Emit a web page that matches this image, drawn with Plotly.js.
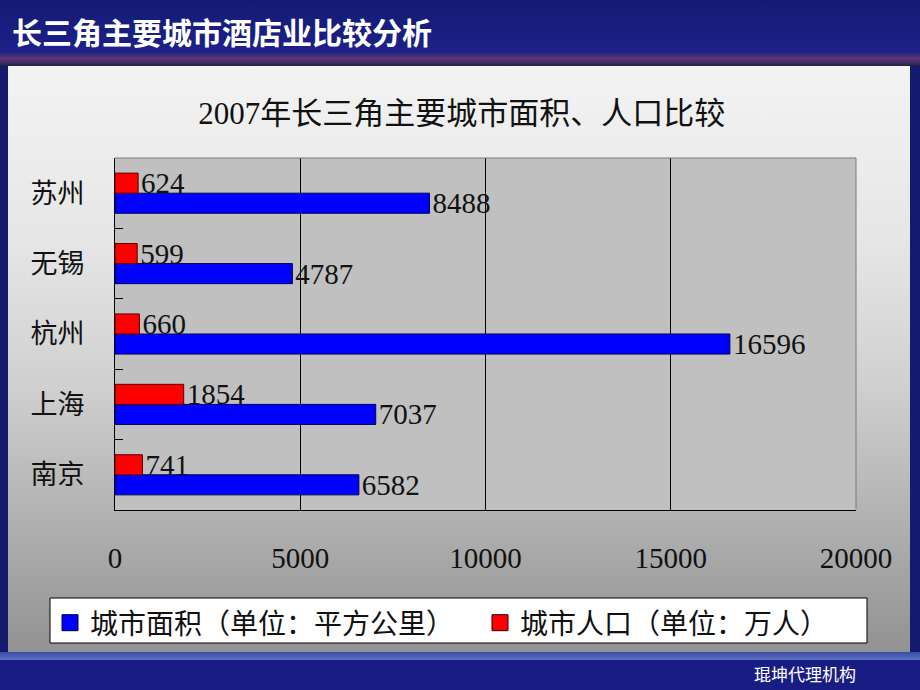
<!DOCTYPE html>
<html>
<head>
<meta charset="utf-8">
<script src="https://cdn.plot.ly/plotly-3.0.1.min.js"></script>
<style>
  html, body { margin:0; padding:0; width:920px; height:690px; overflow:hidden; background:#161c7c; }
  .bg { position:absolute; }
  #chart { position:absolute; left:0; top:0; width:920px; height:690px; }
</style>
</head>
<body>
<div class="bg" style="left:0;top:0;width:920px;height:52px;background:linear-gradient(to bottom,#141a74,#1c2288);"></div>
<div class="bg" style="left:0;top:52px;width:920px;height:14px;background:linear-gradient(to bottom,#1c2288 0%,#5e3474 45%,#3c2c66 80%,#202040 100%);"></div>
<div class="bg" style="left:0;top:66px;width:920px;height:590px;background:#141a6e;"></div>
<div class="bg" style="left:8px;top:66px;width:902px;height:586px;background:linear-gradient(to bottom,#f3f3f3 0%,#e6e6e6 30%,#cfcfcf 55%,#b0b0b0 78%,#929292 100%);"></div>
<div class="bg" style="left:0;top:652px;width:920px;height:8px;background:linear-gradient(to bottom,#3a4aa8,#5d72c4);"></div>
<div class="bg" style="left:0;top:660px;width:920px;height:30px;background:#171d82;"></div>
<div id="chart"></div>
<script>
const categories = ['南京', '上海', '杭州', '无锡', '苏州'];
const areaValues = [6582, 7037, 16596, 4787, 8488];
const popValues = [741, 1854, 660, 599, 624];
const xTicks = [0, 5000, 10000, 15000, 20000];
const areaName = '城市面积（单位：平方公里）';
const popName = '城市人口（单位：万人）';
const chartTitle = '2007年长三角主要城市面积、人口比较';
const pageTitle = '长三角主要城市酒店业比较分析';
const footerText = '琨坤代理机构';

const L = 115, T = 158, W = 741, H = 352;
const px = v => (v - L) / W;
const py = v => (T + H - v) / H;
const serif = "'Liberation Serif', 'Noto Sans CJK SC', serif";
const areaColor = '#0000ff', popColor = '#ff0000';

const traces = [
  {
    type: 'bar', orientation: 'h', name: areaName, showlegend: false,
    y: categories, x: areaValues,
    text: areaValues.map(String), textposition: 'outside',
    textfont: {family: serif, size: 29, color: '#111'},
    constraintext: 'none', cliponaxis: false,
    marker: {color: areaColor, line: {color: '#000055', width: 1}},
    hoverinfo: 'x+y'
  },
  {
    type: 'bar', orientation: 'h', name: popName, showlegend: false,
    y: categories, x: popValues,
    text: popValues.map(String), textposition: 'outside',
    textfont: {family: serif, size: 29, color: '#111'},
    constraintext: 'none', cliponaxis: false,
    marker: {color: popColor, line: {color: '#550000', width: 1}},
    hoverinfo: 'x+y'
  },
  {
    type: 'scatter', mode: 'markers', name: areaName, x: [null], y: [null],
    marker: {symbol: 'square', size: 18, color: areaColor, line: {color: '#000033', width: 1}},
    hoverinfo: 'skip'
  },
  {
    type: 'scatter', mode: 'markers', name: popName, x: [null], y: [null],
    marker: {symbol: 'square', size: 18, color: popColor, line: {color: '#330000', width: 1}},
    hoverinfo: 'skip'
  }
];

const layout = {
  width: 920, height: 690,
  margin: {l: L, r: 920 - L - W, t: T, b: 690 - T - H, pad: 0},
  paper_bgcolor: 'rgba(0,0,0,0)',
  plot_bgcolor: '#c0c0c0',
  barmode: 'group', bargap: 0.43, bargroupgap: 0,
  showlegend: true,
  title: {
    text: chartTitle, x: 0.502, xref: 'container', y: 1 - 113 / 690, yref: 'container',
    xanchor: 'center', yanchor: 'middle',
    font: {family: serif, size: 31, color: '#111'}
  },
  xaxis: {
    range: [0, 20000], tickvals: xTicks, ticktext: xTicks.map(String),
    showgrid: true, gridcolor: '#000', gridwidth: 1, zeroline: false,
    showline: true, linecolor: '#000', linewidth: 1, ticks: '',
    tickfont: {family: serif, size: 29, color: '#111'},
    ticklabelstandoff: 22, fixedrange: true
  },
  yaxis: {
    type: 'category', categoryorder: 'array', categoryarray: categories,
    showgrid: false, zeroline: false,
    showline: true, linecolor: '#000', linewidth: 1,
    ticks: 'inside', tickson: 'boundaries', ticklen: 8, tickcolor: '#000',
    tickfont: {family: serif, size: 27, color: '#111'},
    ticklabelstandoff: 24, fixedrange: true
  },
  legend: {
    orientation: 'h', x: px(50), y: py(598), xanchor: 'left', yanchor: 'top',
    bgcolor: 'rgba(0,0,0,0)', borderwidth: 0,
    font: {family: serif, size: 28, color: '#111'},
    traceorder: 'normal', entrywidth: 385, entrywidthmode: 'pixels'
  },
  shapes: [
    {type: 'rect', xref: 'paper', yref: 'paper', x0: px(50), x1: px(867), y0: py(598), y1: py(643),
     fillcolor: '#ffffff', line: {color: '#000', width: 1}, layer: 'below'},
    {type: 'line', xref: 'paper', yref: 'paper', x0: 0, x1: 1, y0: 1, y1: 1,
     line: {color: '#7a7a7a', width: 1}, layer: 'above'},
    {type: 'line', xref: 'paper', yref: 'paper', x0: 1, x1: 1, y0: 0.003, y1: 1,
     line: {color: '#7a7a7a', width: 1}, layer: 'above'}
  ],
  annotations: [
    {text: pageTitle, xref: 'paper', yref: 'paper', x: px(10), y: py(31),
     xanchor: 'left', yanchor: 'middle', showarrow: false,
     font: {family: "'Noto Sans CJK SC', sans-serif", size: 30, color: '#ffffff', weight: 'bold'}},
    {text: footerText, xref: 'paper', yref: 'paper', x: px(805), y: py(673),
     xanchor: 'center', yanchor: 'middle', showarrow: false,
     font: {family: "'Noto Sans CJK SC', sans-serif", size: 17, color: '#ffffff'}}
  ]
};

Plotly.newPlot('chart', traces, layout, {displayModeBar: false, staticPlot: true});
</script>
</body>
</html>
